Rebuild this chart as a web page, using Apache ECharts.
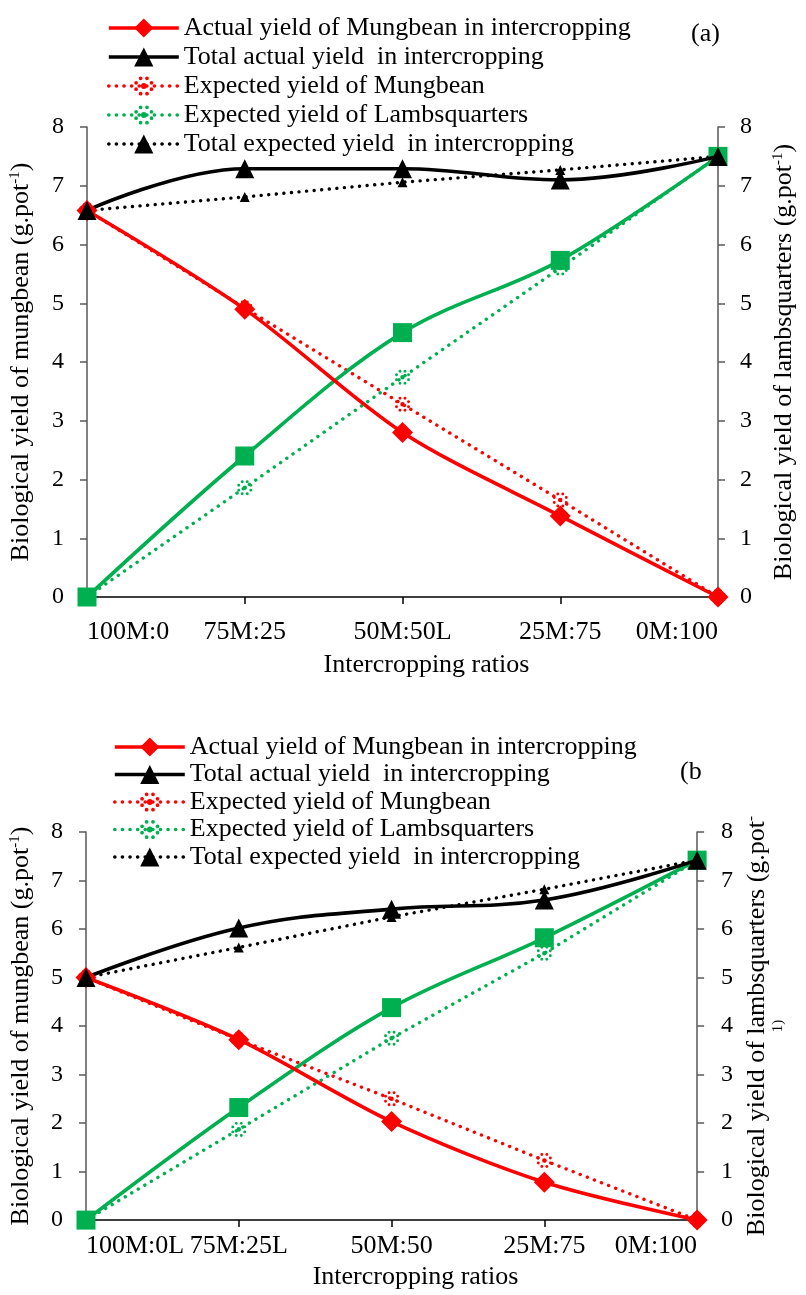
<!DOCTYPE html>
<html>
<head>
<meta charset="utf-8">
<script src="https://cdn.jsdelivr.net/npm/echarts@6/dist/echarts.min.js"></script>
<style>
  html, body { margin: 0; padding: 0; background: #fff; }
  #wrap { position: relative; width: 806px; height: 1295px; }
  #chartA { position: absolute; left: 0; top: 0; width: 806px; height: 700px; }
  #chartB { position: absolute; left: 0; top: 700px; width: 806px; height: 595px; }
</style>
</head>
<body>
<div id="wrap"><div id="chartA"></div><div id="chartB"></div></div>
<script>
// ---------- data ----------
const categoriesA = ['100M:0', '75M:25', '50M:50L', '25M:75', '0M:100'];
const categoriesB = ['100M:0L', '75M:25L', '50M:50', '25M:75', '0M:100'];
const legendNames = [
  'Actual yield of Mungbean in intercropping',
  'Total actual yield  in intercropping',
  'Expected yield of Mungbean',
  'Expected yield of Lambsquarters',
  'Total expected yield  in intercropping'
];
const lambActualName = 'Actual yield of Lambsquarters';
const yTicks = [0, 1, 2, 3, 4, 5, 6, 7, 8];

// panel (a)
const actualMungA   = [6.58, 4.90, 2.80, 1.38, 0];
const totalActualA  = [6.58, 7.29, 7.29, 7.10, 7.50];
const expMungA      = [6.58, 4.92, 3.28, 1.65, 0];
const expLambA      = [0, 1.86, 3.74, 5.60, 7.50];
const totalExpA     = [6.58, 6.81, 7.06, 7.27, 7.50];
const actualLambA   = [0, 2.40, 4.50, 5.73, 7.50];

// panel (b)
const actualMungB   = [5.00, 3.72, 2.03, 0.78, 0];
const totalActualB  = [5.00, 6.02, 6.41, 6.60, 7.42];
const expMungB      = [5.00, 3.72, 2.50, 1.23, 0];
const expLambB      = [0, 1.87, 3.75, 5.50, 7.42];
const totalExpB     = [5.00, 5.62, 6.25, 6.82, 7.42];
const actualLambB   = [0, 2.32, 4.38, 5.82, 7.42];

// ---------- styles ----------
const FONT = '"Liberation Serif", "Times New Roman", serif';
const RED = '#FF0000', GREEN = '#00B050', BLACK = '#000000';

function dotPath() {
  const pts = [[10,10,2.6]];
  for (let i = 0; i < 8; i++) {
    const a = i * Math.PI / 4 + Math.PI / 8;
    pts.push([10 + 7.5 * Math.cos(a), 10 + 7.5 * Math.sin(a), 1.7]);
  }
  return 'path://' + pts.map(([x, y, r]) =>
    `M${(x - r).toFixed(2)} ${y.toFixed(2)}A${r} ${r} 0 1 0 ${(x + r).toFixed(2)} ${y.toFixed(2)}A${r} ${r} 0 1 0 ${(x - r).toFixed(2)} ${y.toFixed(2)}Z`
  ).join('');
}
const DOTSYM = dotPath();
const DOTTED = [0.1, 7.5];

function solid(name, data, color, symbol, size, yIdx, smooth, z) {
  return {
    name, type: 'line', data, yAxisIndex: yIdx, smooth,
    symbol, symbolSize: size, showSymbol: true,
    lineStyle: { color, width: 3.6 },
    itemStyle: { color, borderWidth: 0 },
    z
  };
}
function dotted(name, data, color, symbol, size, yIdx, z) {
  return {
    name, type: 'line', data, yAxisIndex: yIdx,
    symbol, symbolSize: size,
    lineStyle: { color, width: 3.4, type: DOTTED, cap: 'round' },
    itemStyle: { color, borderWidth: 0 },
    z
  };
}

function buildOption(p) {
  const yAxisCommon = (name, pos, gap, labelMargin) => ({
    type: 'value', min: 0, max: 8, interval: 1, position: pos,
    name, nameLocation: 'middle', nameRotate: 90, nameGap: gap,
    nameTextStyle: {
      fontFamily: FONT, fontSize: 26, color: '#000', lineHeight: 27,
      rich: { s: { fontFamily: FONT, fontSize: 15, color: '#000', verticalAlign: 'top', lineHeight: 27 } }
    },
    axisLine: { show: true, lineStyle: { color: '#595959', width: 1.5 } },
    axisTick: { show: true, inside: false, length: 7, lineStyle: { color: '#595959', width: 1.5 } },
    splitLine: { show: false },
    axisLabel: {
      fontFamily: FONT, fontSize: 24, color: '#000', margin: labelMargin,
      formatter: v => yTicks.includes(v) ? String(v) : ''
    }
  });
  return {
    animation: false,
    backgroundColor: '#fff',
    title: {
      text: p.tag, left: p.tagX, top: p.tagY,
      textStyle: { fontFamily: FONT, fontSize: 26, fontWeight: 'normal', color: '#000' }
    },
    legend: {
      data: legendNames, orient: 'vertical', left: p.legLeft, top: p.legTop,
      itemGap: p.legGap, itemWidth: 70, itemHeight: 24,
      lineStyle: { width: 3.6 },
      textStyle: { fontFamily: FONT, fontSize: 26, color: '#000' },
      selectedMode: false
    },
    grid: { left: p.left, right: p.right, top: p.top, bottom: p.bottom, containLabel: false },
    xAxis: {
      type: 'category', data: p.cats, boundaryGap: false,
      name: 'Intercropping ratios', nameLocation: 'middle', nameGap: p.xNameGap,
      nameTextStyle: { fontFamily: FONT, fontSize: 26, color: '#000', padding: [0, 0, 0, 48], backgroundColor: p.xNameBg },
      axisLine: { show: true, onZero: false, lineStyle: { color: '#000', width: 1.5 } },
      axisTick: { show: true, inside: false, length: 7, alignWithLabel: true, lineStyle: { color: '#000', width: 1.5 } },
      axisLabel: {
        fontFamily: FONT, fontSize: 26, color: '#000', margin: p.xLabelMargin,
        alignMinLabel: 'left', alignMaxLabel: 'right', interval: 0
      },
      splitLine: { show: false }
    },
    yAxis: [
      yAxisCommon('Biological yield of mungbean (g.pot{s|-1})', 'left', p.lNameGap, 23),
      yAxisCommon(p.rName, 'right', p.rNameGap, p.rLabelMargin)
    ],
    series: [
      dotted(legendNames[2], p.expMung, RED, DOTSYM, 15, 0, 3),
      dotted(legendNames[3], p.expLamb, GREEN, DOTSYM, 15, 1, 3),
      dotted(legendNames[4], p.totalExp, BLACK, 'triangle', 10, 0, 3),
      solid(lambActualName, p.actualLamb, GREEN, 'rect', 19, 1, 0.35, 4),
      solid(legendNames[0], p.actualMung, RED, 'diamond', 21, 0, 0.3, 5),
      solid(legendNames[1], p.totalActual, BLACK, 'triangle', 19, 0, 0.4, 5)
    ]
  };
}

const chartA = echarts.init(document.getElementById('chartA'), null, { renderer: 'canvas' });
chartA.setOption(buildOption({
  tag: '(a)', tagX: 686, tagY: 16,
  legLeft: 102, legTop: 10, legGap: 3,
  left: 87, right: 76, top: 127, bottom: 103,
  cats: categoriesA, xLabelMargin: 22, xNameGap: 55, xNameBg: 'transparent',
  lNameGap: 52, rNameGap: 53, rLabelMargin: 22,
  rName: 'Biological yield of lambsquarters (g.pot{s|-1})',
  expMung: expMungA, expLamb: expLambA, totalExp: totalExpA,
  actualLamb: actualLambA, actualMung: actualMungA, totalActual: totalActualA
}));

const chartB = echarts.init(document.getElementById('chartB'), null, { renderer: 'canvas' });
chartB.setOption(buildOption({
  tag: '(b', tagX: 675, tagY: 54,
  legLeft: 108, legTop: 29, legGap: 1.5,
  left: 80, right: 80, top: 132, bottom: 59,
  cats: categoriesB, xLabelMargin: 13, xNameGap: 33, xNameBg: '#fff',
  lNameGap: 51, rNameGap: 46, rLabelMargin: 24,
  rName: 'Biological yield of lambsquarters (g.pot{s|-}\n{s|1)}',
  expMung: expMungB, expLamb: expLambB, totalExp: totalExpB,
  actualLamb: actualLambB, actualMung: actualMungB, totalActual: totalActualB
}));
</script>
</body>
</html>
